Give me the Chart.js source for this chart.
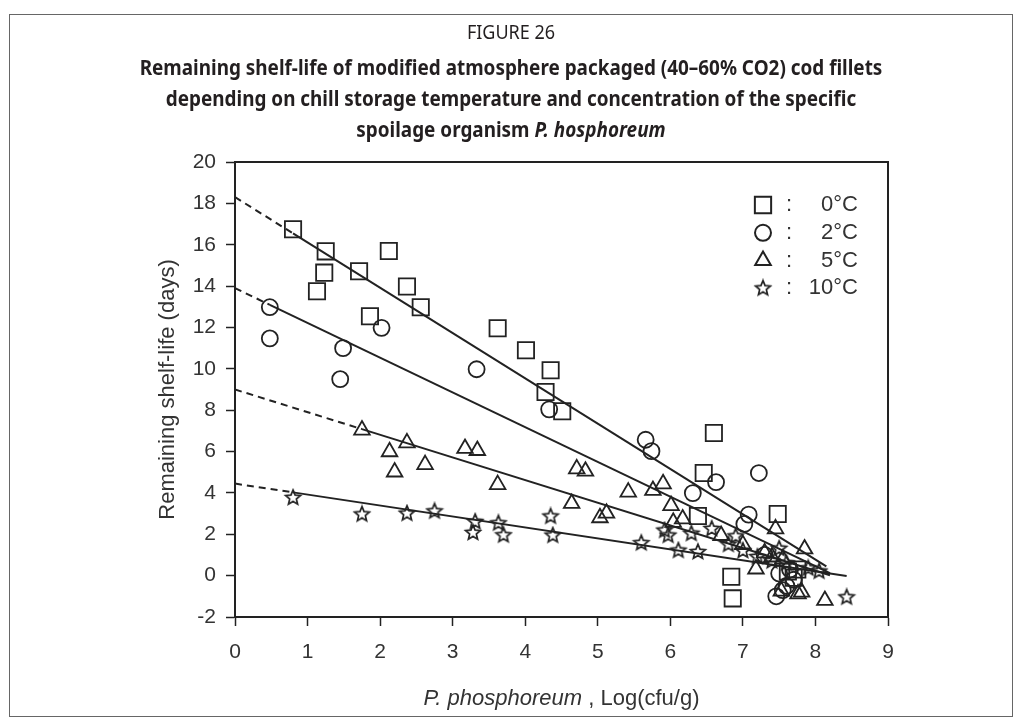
<!DOCTYPE html>
<html>
<head>
<meta charset="utf-8">
<script src="https://cdn.jsdelivr.net/npm/chart.js@4.4.0/dist/chart.umd.min.js"></script>
<style>
  html, body { margin: 0; padding: 0; background: #fff; }
  #wrap { position: relative; width: 1022px; height: 724px; overflow: hidden; }
  #frame { position: absolute; left: 9px; top: 14px; width: 1002px; height: 701px; border: 1.5px solid #666; }
  #title { position: absolute; left: 0; top: 17px; width: 1022px; text-align: center; color: #231f20;
           font-family: "Noto Sans", sans-serif; transform: scaleX(0.9); transform-origin: 511px 0; }
  #title .fig { font-size: 20px; line-height: 30px; margin-bottom: 5px; }
  #title .main { font-size: 21px; font-weight: bold; line-height: 31px; }
  canvas { position: absolute; left: 0; top: 0; }
</style>
</head>
<body>
<div id="wrap">
  <div id="frame"></div>
  <canvas id="chart" width="1022" height="724"></canvas>
  <div id="title">
    <div class="fig">FIGURE 26</div>
    <div class="main">Remaining shelf-life of modified atmosphere packaged (40–60% CO2) cod fillets<br>
      depending on chill storage temperature and concentration of the specific<br>
      spoilage organism <i>P. hosphoreum</i></div>
  </div>
</div>
<script>
// temperatures (legend labels)
const temps = ["0°C", "2°C", "5°C", "10°C"]

// log(cfu/g) and remaining shelf-life (days)
const x0C = [0.80, 1.25, 1.23, 1.13, 1.71, 2.12, 2.37, 2.56, 1.86, 3.62, 4.01, 4.35, 4.28, 4.51, 6.60, 6.46, 6.38, 7.48, 6.84, 6.86, 7.62, 7.70, 7.75]
const y0C = [16.75, 15.68, 14.65, 13.75, 14.72, 15.70, 13.98, 12.98, 12.54, 11.96, 10.9, 9.93, 8.88, 7.95, 6.9, 4.96, 2.88, 2.98, -0.05, -1.1, 0.2, -0.1, 0.3]

const x2C = [0.48, 0.48, 1.49, 1.45, 2.02, 3.33, 4.33, 5.66, 5.74, 6.31, 6.63, 7.22, 7.08, 7.02, 7.46, 7.55, 7.60, 7.50, 7.65, 7.30, 7.70]
const y2C = [12.98, 11.47, 11.0, 9.5, 11.98, 9.98, 8.04, 6.57, 6.02, 3.99, 4.52, 4.96, 2.95, 2.5, -1.0, -0.7, -0.5, 0.1, 0.3, 1.0, -0.2]

const x5C = [1.75, 2.13, 2.20, 2.37, 2.62, 3.17, 3.34, 3.62, 4.71, 4.83, 4.64, 5.03, 5.12, 5.42, 5.76, 5.90, 6.01, 6.04, 6.17, 6.70, 7.45, 7.85, 7.18, 7.81, 8.13, 7.00, 7.30, 7.55, 7.53, 7.40, 7.76]
const y5C = [7.04, 5.99, 5.01, 6.42, 5.37, 6.15, 6.05, 4.40, 5.16, 5.05, 3.49, 2.8, 3.02, 4.04, 4.12, 4.44, 3.39, 2.58, 2.74, 1.94, 2.26, 1.29, 0.32, -0.8, -1.2, 1.5, 1.1, 0.8, -0.75, 0.9, -0.88]

const x10C = [0.80, 1.75, 2.37, 2.75, 3.31, 3.28, 3.63, 3.70, 4.35, 4.38, 5.60, 5.97, 6.11, 5.92, 6.29, 6.57, 6.38, 6.80, 7.00, 7.20, 7.40, 7.60, 7.90, 8.05, 8.43, 7.50, 6.90]
const y10C = [3.76, 2.96, 3.0, 3.11, 2.6, 2.07, 2.53, 1.95, 2.86, 1.94, 1.57, 1.94, 1.21, 2.18, 2.03, 2.26, 1.14, 1.5, 1.2, 0.9, 0.7, 0.6, 0.35, 0.2, -1.05, 1.3, 1.9]

// fitted lines: intercept, slope, where the data starts, where the line stops
const fitIntercept = [18.3, 13.9, 9.0, 4.45]
const fitSlope = [-2.19, -1.68, -1.095, -0.53]
const fitStart = [0.80, 0.48, 1.75, 0.80]
const fitEnd = [8.15, 8.2, 8.2, 8.43]

const xTicks = [0, 1, 2, 3, 4, 5, 6, 7, 8, 9]
const yTicks = [-2, 0, 2, 4, 6, 8, 10, 12, 14, 16, 18, 20]

const ink = "#222"

function makeStar (r) {
    const c = document.createElement("canvas")
    const s = Math.ceil(r * 2 + 4)
    c.width = s
    c.height = s
    const g = c.getContext("2d")
    g.strokeStyle = ink
    g.lineWidth = 1.7
    g.beginPath()
    for (let k = 0; k < 10; k++) {
        const rr = k % 2 ? r * 0.45 : r
        const ang = -Math.PI / 2 + k * Math.PI / 5
        g.lineTo(s / 2 + rr * Math.cos(ang), s / 2 + rr * Math.sin(ang))
    }
    g.closePath()
    g.stroke()
    return c
}

const star = makeStar(7.8)
const styles = [
    { pointStyle: "rect", radius: 11.5 },
    { pointStyle: "circle", radius: 8 },
    { pointStyle: "triangle", radius: 9 },
    { pointStyle: star, radius: 8 },
]

const xs = [x0C, x2C, x5C, x10C]
const ys = [y0C, y2C, y5C, y10C]

const datasets = []
temps.forEach((t, i) => {
    datasets.push({
        label: t,
        data: xs[i].map((x, j) => ({ x: x, y: ys[i][j] })),
        pointStyle: styles[i].pointStyle,
        pointRadius: styles[i].radius,
        pointBorderWidth: 1.8,
        pointBorderColor: ink,
        pointBackgroundColor: "rgba(0,0,0,0)",
        showLine: false,
    })
})
temps.forEach((t, i) => {
    const f = x => fitIntercept[i] + fitSlope[i] * x
    datasets.push({
        label: "fit dashed " + t,
        data: [{ x: 0, y: f(0) }, { x: fitStart[i], y: f(fitStart[i]) }],
        showLine: true, pointRadius: 0, borderColor: ink, borderWidth: 2, borderDash: [7, 5],
    })
    datasets.push({
        label: "fit " + t,
        data: [{ x: fitStart[i], y: f(fitStart[i]) }, { x: fitEnd[i], y: f(fitEnd[i]) }],
        showLine: true, pointRadius: 0, borderColor: ink, borderWidth: 2,
    })
})

const decor = {
    id: "decor",
    afterDraw (chart) {
        const { ctx, chartArea: a } = chart
        ctx.save()
        ctx.strokeStyle = ink
        ctx.lineWidth = 2
        ctx.strokeRect(a.left, a.top, a.right - a.left, a.bottom - a.top)

        // axis titles
        ctx.fillStyle = "#333"
        ctx.textBaseline = "middle"
        const xt1 = "P. phosphoreum"
        const xt2 = " , Log(cfu/g)"
        ctx.font = "italic 22px 'Liberation Sans', Arial, sans-serif"
        const w1 = ctx.measureText(xt1).width
        ctx.font = "22px 'Liberation Sans', Arial, sans-serif"
        const w2 = ctx.measureText(xt2).width
        let tx = (a.left + a.right) / 2 - (w1 + w2) / 2
        ctx.textAlign = "left"
        ctx.font = "italic 22px 'Liberation Sans', Arial, sans-serif"
        ctx.fillText(xt1, tx, 699)
        ctx.font = "22px 'Liberation Sans', Arial, sans-serif"
        ctx.fillText(xt2, tx + w1, 699)

        ctx.save()
        ctx.translate(168, (a.top + a.bottom) / 2)
        ctx.rotate(-Math.PI / 2)
        ctx.textAlign = "center"
        ctx.fillText("Remaining shelf-life (days)", 0, 0)
        ctx.restore()

        // legend inside the plot, open symbols like the data
        temps.forEach((t, i) => {
            const ly = 205 + i * 27.8
            ctx.fillStyle = "rgba(0,0,0,0)"
            ctx.strokeStyle = ink
            Chart.helpers.drawPoint(ctx, {
                pointStyle: styles[i].pointStyle, radius: styles[i].radius,
                rotation: 0, borderWidth: 1.8,
            }, 763, ly)
            ctx.fillStyle = "#333"
            ctx.textAlign = "left"
            ctx.fillText(":", 786, ly)
            ctx.textAlign = "right"
            ctx.fillText(t, 858, ly)
        })
        ctx.restore()
    }
}

const tickFont = { family: "'Liberation Sans', Arial, sans-serif", size: 21 }

new Chart(document.getElementById("chart").getContext("2d"), {
    type: "scatter",
    data: { datasets: datasets },
    options: {
        responsive: false,
        animation: false,
        devicePixelRatio: 1,
        layout: { padding: { top: 162, right: 134, left: 0, bottom: 0 } },
        plugins: { legend: { display: false }, tooltip: { enabled: false } },
        elements: { point: { hitRadius: 0 } },
        scales: {
            x: {
                type: "linear", min: 0, max: 9,
                afterFit: s => { s.height = 107 },
                afterBuildTicks: s => { s.ticks = xTicks.map(v => ({ value: v })) },
                ticks: { font: tickFont, color: "#333", padding: 14 },
                grid: { drawOnChartArea: false, tickLength: 9, tickColor: ink, tickWidth: 1.5 },
                border: { display: true, color: ink, width: 2 },
            },
            y: {
                type: "linear", min: -2, max: 20,
                afterFit: s => { s.width = 235 },
                afterBuildTicks: s => { s.ticks = yTicks.map(v => ({ value: v })) },
                ticks: { font: tickFont, color: "#333", padding: 10 },
                grid: { drawOnChartArea: false, tickLength: 9, tickColor: ink, tickWidth: 1.5 },
                border: { display: true, color: ink, width: 2 },
            },
        },
    },
    plugins: [decor],
})
</script>
</body>
</html>
